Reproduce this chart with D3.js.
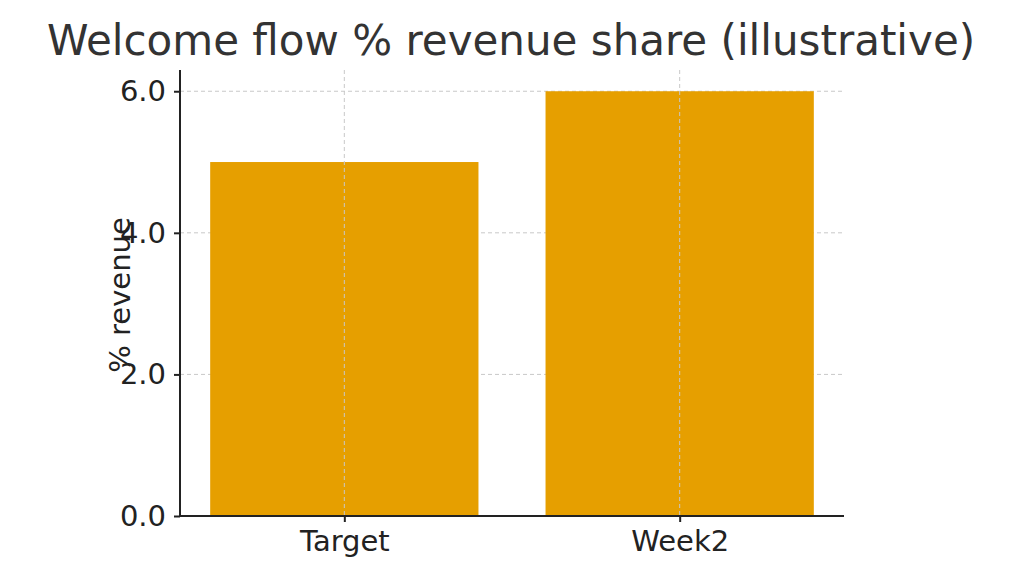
<!DOCTYPE html><html><head><script src="https://d3js.org/d3.v7.min.js"></script>
<style>body{margin:0;background:#fff}</style></head><body><script>
const categories=["Target","Week2"];
const values=[5,6];
const yTicks=[0,2,4,6];
const W=1023,H=579,L=180,R=844,T=70,B=516;
const svg=d3.select("body").append("svg").attr("width",W).attr("height",H).style("font-family","DejaVu Sans");
const x=d3.scaleLinear().domain([-0.49,1.49]).range([L,R]);
const y=d3.scaleLinear().domain([0,6.3]).range([B,T]);
const bw=x(0.8)-x(0);
// grid
svg.append("g").selectAll("line").data(yTicks.slice(1)).join("line").attr("x1",L).attr("x2",R).attr("y1",d=>y(d)).attr("y2",d=>y(d)).attr("stroke","#c8c8c8").attr("stroke-dasharray","4,3");
svg.append("g").selectAll("rect").data(values).join("rect").attr("x",(d,i)=>x(i)-bw/2).attr("width",bw).attr("y",d=>y(d)).attr("height",d=>B-y(d)).attr("fill","#e69f00");
svg.append("g").selectAll("line").data(categories).join("line").attr("x1",(d,i)=>x(i)).attr("x2",(d,i)=>x(i)).attr("y1",T).attr("y2",B).attr("stroke","#c8c8c8").attr("stroke-dasharray","4,3");
const ya=svg.append("g").attr("transform",`translate(${L},0)`).call(d3.axisLeft(y).tickValues(yTicks).tickSize(6).tickPadding(8));
ya.select(".domain").attr("d",`M0,${T}V${B}`);
const xa=svg.append("g").attr("transform",`translate(0,${B})`).call(d3.axisBottom(x).tickValues([0,1]).tickFormat((d,i)=>categories[i]).tickSize(6).tickPadding(8));
xa.select(".domain").attr("d",`M${L},0H${R}`);
[ya,xa].forEach(a=>{a.selectAll("path,line").attr("stroke","#222").attr("stroke-width",2);a.selectAll("text").attr("font-size",29).attr("fill","#222").attr("font-family","DejaVu Sans");});
svg.append("text").attr("x",511).attr("y",55).attr("text-anchor","middle").attr("font-size",42).attr("fill","#333").text("Welcome flow % revenue share (illustrative)");
svg.append("text").attr("transform",`translate(130,${(T+B)/2+2}) rotate(-90)`).attr("text-anchor","middle").attr("font-size",29).attr("fill","#222").text("% revenue");
</script></body></html>
